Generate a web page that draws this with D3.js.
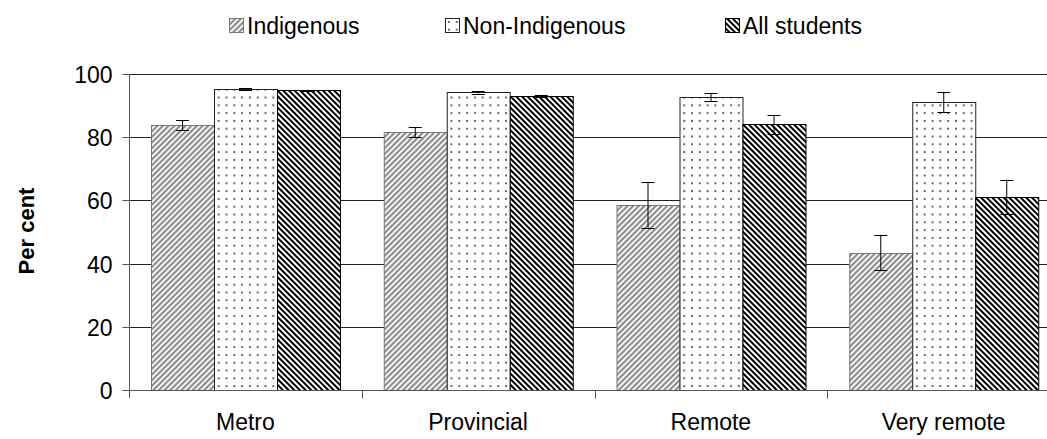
<!DOCTYPE html>
<html><head><meta charset="utf-8">
<script src="https://cdn.jsdelivr.net/npm/d3@7"></script>
<style>body{margin:0;background:#fff;} svg{display:block;} text{font-family:"Liberation Sans",Arial,sans-serif;}</style>
</head><body>
<svg id="chart" width="1047" height="439"></svg>
<script>
const categories = ["Metro", "Provincial", "Remote", "Very remote"];
const seriesNames = ["Indigenous", "Non-Indigenous", "All students"];
const indigenous = [83.9, 81.6, 58.5, 43.5];
const indigenousErr = [1.5, 1.5, 7.2, 5.6];
const nonIndigenous = [95.3, 94.2, 92.7, 91.1];
const nonIndigenousErr = [0.3, 0.4, 1.3, 3.2];
const allStudents = [94.8, 93.1, 84.1, 61.2];
const allStudentsErr = [0.2, 0.3, 3.0, 5.4];
const yTicks = [0, 20, 40, 60, 80, 100];
const yLabel = "Per cent";

(function () {
const values = [indigenous, nonIndigenous, allStudents];
const errors = [indigenousErr, nonIndigenousErr, allStudentsErr];
const patIds = ["pInd", "pNon", "pAll"];
const strokes = ["#777", "#222", "#000"];
const FS = 23;

const svg = d3.select("#chart");
const mLeft = 129, mRight = 1060, mTop = 74, mBottom = 390;

// patterns
const defs = svg.append("defs");
const p1 = defs.append("pattern").attr("id", "pInd").attr("patternUnits", "userSpaceOnUse")
  .attr("width", 4).attr("height", 4).attr("patternTransform", "rotate(45)");
p1.append("rect").attr("width", 4).attr("height", 4).attr("fill", "#f4f4f4");
p1.append("rect").attr("width", 2).attr("height", 4).attr("fill", "#8c8c8c");
const p2 = defs.append("pattern").attr("id", "pNon").attr("patternUnits", "userSpaceOnUse")
  .attr("width", 7.8).attr("height", 7.8);
p2.append("rect").attr("width", 7.8).attr("height", 7.8).attr("fill", "#fff");
p2.append("circle").attr("cx", 3.9).attr("cy", 3.9).attr("r", 1).attr("fill", "#333");
const p3 = defs.append("pattern").attr("id", "pAll").attr("patternUnits", "userSpaceOnUse")
  .attr("width", 4).attr("height", 4).attr("patternTransform", "rotate(-45)");
p3.append("rect").attr("width", 4).attr("height", 4).attr("fill", "#fff");
p3.append("rect").attr("width", 2).attr("height", 4).attr("fill", "#000");

const x = d3.scaleBand().domain(categories).range([mLeft, mRight]).paddingInner(0).paddingOuter(0);
const xs = d3.scaleBand().domain(seriesNames).range([0, x.bandwidth()]).paddingInner(0).paddingOuter(0.347);
const y = d3.scaleLinear().domain([0, 100]).range([mBottom, mTop]);

// gridlines
svg.append("g").selectAll("line").data(yTicks.filter(d => d > 0)).join("line")
  .attr("x1", mLeft).attr("x2", 1047)
  .attr("y1", d => Math.round(y(d)) + 0.5).attr("y2", d => Math.round(y(d)) + 0.5)
  .attr("stroke", "#222").attr("stroke-width", 1);

// bars
const groups = svg.append("g").selectAll("g").data(categories).join("g")
  .attr("transform", c => `translate(${x(c)},0)`);
seriesNames.forEach((s, si) => {
  groups.append("rect")
    .attr("x", Math.round(xs(s)) + 0.5)
    .attr("y", (c, ci) => Math.round(y(values[si][ci])) + 0.5)
    .attr("width", Math.round(xs.bandwidth()))
    .attr("height", (c, ci) => Math.round(y(0)) - Math.round(y(values[si][ci])))
    .attr("fill", `url(#${patIds[si]})`)
    .attr("stroke", strokes[si]).attr("stroke-width", 1);
});
// error bars
seriesNames.forEach((s, si) => {
  const cx = Math.round(xs(s) + xs.bandwidth() / 2) + 0.5;
  const eg = groups.append("g");
  eg.append("line").attr("x1", cx).attr("x2", cx)
    .attr("y1", (c, ci) => y(values[si][ci] + errors[si][ci]))
    .attr("y2", (c, ci) => y(values[si][ci] - errors[si][ci]))
    .attr("stroke", "#000");
  [1, -1].forEach(sg => {
    eg.append("line").attr("x1", cx - 6.5).attr("x2", cx + 6.5)
      .attr("y1", (c, ci) => Math.round(y(values[si][ci] + sg * errors[si][ci])) + 0.5)
      .attr("y2", (c, ci) => Math.round(y(values[si][ci] + sg * errors[si][ci])) + 0.5)
      .attr("stroke", "#000");
  });
});

// y axis
const yAxis = d3.axisLeft(y).tickValues(yTicks).tickSize(7).tickPadding(10).tickFormat(d3.format("d"));
const ya = svg.append("g").attr("transform", `translate(${mLeft + 0.5},0)`).call(yAxis);
ya.attr("font-family", null);
ya.select(".domain").attr("stroke", "#555").attr("d", `M0,${mTop}V${mBottom + 8}`);
ya.selectAll(".tick line").attr("stroke", "#555").attr("x2", -7).attr("x1", 1);
ya.selectAll(".tick").attr("transform", d => `translate(0,${Math.round(y(d)) + 0.5})`);
ya.selectAll("text").attr("font-size", FS).attr("fill", "#000").attr("dy", "0.36em");

// x axis
const xa = svg.append("g").attr("transform", `translate(0,${mBottom + 0.5})`);
xa.append("line").attr("x1", mLeft).attr("x2", 1047).attr("stroke", "#555");
xa.selectAll("line.tk").data(categories.slice(1)).join("line").attr("class", "tk")
  .attr("x1", c => Math.round(x(c)) + 0.5).attr("x2", c => Math.round(x(c)) + 0.5)
  .attr("y1", 0).attr("y2", 8).attr("stroke", "#555");
xa.selectAll("text").data(categories).join("text")
  .attr("x", c => x(c) + x.bandwidth() / 2).attr("y", 39)
  .attr("text-anchor", "middle").attr("font-size", FS).attr("fill", "#000").text(c => c);

// y label
svg.append("text").attr("transform", `translate(34,231) rotate(-90)`)
  .attr("text-anchor", "middle").attr("font-size", FS - 1).attr("font-weight", "bold").text(yLabel);

// legend
const legendX = [229, 445, 725];
const lg = svg.append("g").selectAll("g").data(seriesNames).join("g")
  .attr("transform", (d, i) => `translate(${legendX[i]},18)`);
lg.append("rect").attr("x", 0.5).attr("y", 0.5).attr("width", 14).attr("height", 14)
  .attr("fill", (d, i) => `url(#${patIds[i]})`).attr("stroke", (d, i) => strokes[i]);
lg.append("text").attr("x", 18).attr("y", 16).attr("font-size", FS).attr("fill", "#000").text(d => d);
})();
</script>
</body></html>
